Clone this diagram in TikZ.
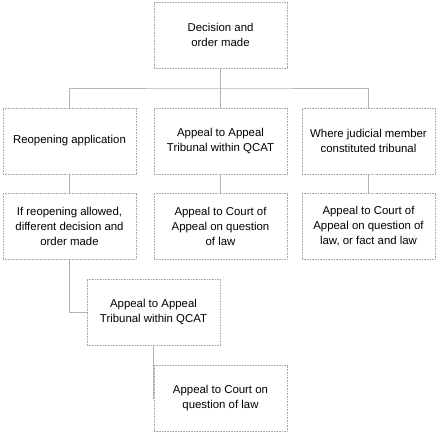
\documentclass[tikz,border=0pt]{standalone}
\usepackage{fontspec}
\setmainfont{Liberation Sans}
\usetikzlibrary{positioning,calc}
\definecolor{boxline}{HTML}{A6A6A6}
\definecolor{linkline}{HTML}{B3B3B3}

\begin{document}
\begin{tikzpicture}[x=1pt,y=-1pt,
    every node/.style={font=\fontsize{11.4}{15}\selectfont,align=center},
    stage/.style={draw=boxline, line width=0.7pt, dash pattern=on 0.8pt off 0.8pt,
      minimum width=133pt, minimum height=66pt, inner sep=2pt},
    link/.style={draw=linkline, line width=0.8pt}]
  \useasboundingbox (0,0) rectangle (437,434);

  \node[stage] (made) at (220.5,35) {Decision and\\order made};

  \node[stage] (reopen) at (69.5,141) {Reopening application};
  \node[stage] (tribunal) at (220.5,141) {Appeal to Appeal\\Tribunal within QCAT};
  \node[stage] (judicial) at (368.5,141) {Where judicial member\\constituted tribunal};

  \node[stage] (different) at (69.5,226.5) {If reopening allowed,\\different decision and\\order made};
  \node[stage] (lawonly) at (220.5,226.5) {Appeal to Court of\\Appeal on question\\of law};
  \node[stage] (factlaw) at (368.5,226.5) {Appeal to Court of\\Appeal on question of\\law, or fact and law};

  \node[stage] (tribunal2) at (153.5,312) {Appeal to Appeal\\Tribunal within QCAT};
  \node[stage] (court) at (220.5,398.5) {Appeal to Court on\\question of law};

  % branches from the decision
  \coordinate (split) at (220.5,88);
  \draw[link] (made.south) -- (split);
  \draw[link] (reopen.north) |- (split) -| (judicial.north);
  \draw[link] (split) -- (tribunal.north);

  % down each column
  \foreach \a/\b in {reopen/different,tribunal/lawonly,judicial/factlaw}
    \draw[link] (\a.south) -- (\b.north);

  % reopened path
  \draw[link] (different.south) |- (tribunal2.west);
  \draw[link] (tribunal2.south) |- (court.west);
\end{tikzpicture}
\end{document}
